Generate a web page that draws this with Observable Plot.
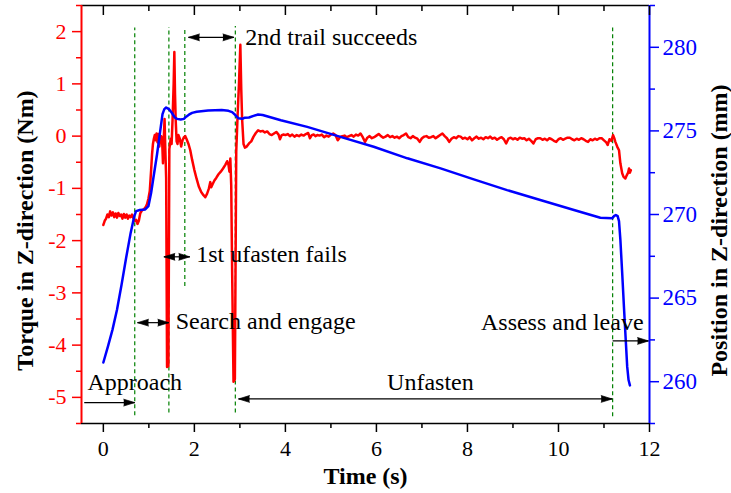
<!DOCTYPE html>
<html><head><meta charset="utf-8">
<script src="https://cdn.jsdelivr.net/npm/d3@7"></script>
<script src="https://cdn.jsdelivr.net/npm/@observablehq/plot@0.6"></script>
<style>body{margin:0;background:#fff;}</style>
</head><body><div id="chart"></div>
<script>
// ---- data ----
const torqueTime = [0.00,0.03,0.06,0.09,0.12,0.15,0.18,0.21,0.24,0.27,0.30,0.33,0.36,0.39,0.42,0.45,0.48,0.51,0.54,0.57,0.60,0.63,0.66,0.69,0.72,0.75,0.78,0.81,0.85,0.89,0.93,0.96,0.99,1.02,1.05,1.07,1.09,1.11,1.13,1.15,1.17,1.19,1.21,1.23,1.25,1.27,1.29,1.31,1.33,1.345,1.36,1.38,1.40,1.43,1.45,1.48,1.50,1.52,1.545,1.56,1.575,1.59,1.61,1.63,1.65,1.68,1.71,1.74,1.77,1.80,1.83,1.87,1.91,1.95,2.00,2.05,2.10,2.15,2.20,2.24,2.28,2.32,2.35,2.37,2.40,2.44,2.48,2.53,2.58,2.63,2.68,2.72,2.75,2.77,2.79,2.81,2.83,2.86,2.89,2.92,2.95,2.98,3.01,3.03,3.05,3.08,3.11,3.15,3.20,3.25,3.30,3.35,3.40,3.45,3.50,3.55,3.60,3.65,3.70,3.75,3.80,3.85,3.88,3.92,3.96,4.00,4.05,4.10,4.15,4.20,4.25,4.30,4.35,4.40,4.45,4.50,4.54,4.58,4.62,4.66,4.70,4.75,4.80,4.85,4.90,4.95,5.00,5.05,5.10,5.15,5.20,5.25,5.30,5.35,5.40,5.45,5.50,5.55,5.60,5.65,5.70,5.75,5.80,5.85,5.90,5.95,6.00,6.05,6.10,6.15,6.20,6.25,6.30,6.35,6.40,6.45,6.50,6.55,6.60,6.65,6.70,6.75,6.80,6.85,6.90,6.95,7.00,7.05,7.10,7.15,7.20,7.25,7.30,7.35,7.40,7.45,7.50,7.55,7.60,7.65,7.70,7.75,7.80,7.85,7.90,7.95,8.00,8.05,8.10,8.15,8.20,8.25,8.30,8.35,8.40,8.45,8.50,8.55,8.60,8.65,8.70,8.75,8.80,8.85,8.90,8.95,9.00,9.05,9.10,9.15,9.20,9.25,9.30,9.35,9.40,9.45,9.50,9.55,9.60,9.65,9.70,9.75,9.80,9.85,9.90,9.95,10.00,10.05,10.10,10.15,10.20,10.25,10.30,10.35,10.40,10.45,10.50,10.55,10.60,10.65,10.70,10.75,10.80,10.85,10.90,10.95,11.00,11.05,11.08,11.12,11.16,11.20,11.23,11.25,11.29,11.33,11.36,11.40,11.43,11.47,11.50,11.53,11.55,11.57,11.59];
const torqueValues = [-1.70,-1.62,-1.58,-1.50,-1.55,-1.44,-1.52,-1.46,-1.55,-1.48,-1.56,-1.47,-1.53,-1.50,-1.58,-1.49,-1.56,-1.50,-1.58,-1.52,-1.55,-1.50,-1.57,-1.62,-1.60,-1.68,-1.62,-1.48,-1.42,-1.40,-1.36,-1.30,-1.20,-1.05,-0.65,-0.35,-0.15,-0.05,0.02,-0.08,0.05,-0.12,0.04,-0.20,-0.05,0.00,-0.05,-0.52,0.00,0.33,-0.20,-0.80,-4.42,-4.40,-0.25,-0.05,-0.15,0.30,1.00,1.61,0.80,0.30,-0.10,-0.15,0.02,-0.05,-0.20,-0.08,-0.02,0.00,-0.06,-0.15,-0.27,-0.45,-0.65,-0.82,-0.97,-1.07,-1.13,-1.17,-1.10,-1.00,-0.88,-0.98,-0.92,-0.85,-0.80,-0.73,-0.68,-0.62,-0.55,-0.48,-0.55,-0.68,-0.43,-0.95,-2.60,-4.70,-4.65,-0.30,0.40,1.00,1.75,0.90,0.31,-0.15,-0.22,-0.20,-0.14,-0.10,-0.01,0.06,0.11,0.09,0.10,0.07,0.09,0.04,0.02,0.05,0.08,0.03,-0.06,0.02,0.03,0.02,0.04,0.00,0.03,-0.01,0.02,0.00,0.03,0.01,0.04,0.06,-0.04,0.02,0.03,0.00,0.02,0.01,0.03,-0.02,0.01,-0.01,0.03,0.05,0.02,-0.08,-0.02,0.00,0.01,-0.02,0.00,0.02,-0.01,0.03,0.01,0.05,-0.02,-0.11,-0.03,0.00,-0.04,-0.02,0.01,0.04,0.00,-0.03,-0.01,0.02,-0.02,0.00,-0.03,-0.01,-0.04,0.00,0.02,0.05,-0.02,-0.04,0.00,-0.03,-0.05,-0.11,-0.04,-0.01,0.00,-0.03,-0.02,0.00,-0.04,-0.01,0.02,0.05,0.00,-0.04,-0.11,-0.05,-0.02,-0.04,0.00,-0.01,-0.05,-0.03,-0.06,-0.02,-0.08,-0.04,-0.01,-0.05,-0.03,-0.06,-0.02,-0.04,-0.01,-0.05,-0.03,-0.07,-0.04,-0.02,-0.06,-0.14,-0.05,-0.03,-0.06,-0.04,-0.07,-0.03,-0.05,-0.04,-0.08,-0.05,-0.09,-0.14,-0.06,-0.04,-0.04,-0.07,-0.05,-0.08,-0.04,-0.06,-0.09,-0.11,-0.06,-0.04,-0.07,-0.05,-0.03,-0.03,-0.06,-0.08,-0.05,-0.07,-0.04,-0.06,-0.09,-0.11,-0.06,-0.08,-0.05,-0.07,-0.04,-0.04,-0.08,-0.12,-0.17,-0.06,-0.09,0.02,-0.05,-0.11,-0.20,-0.27,-0.52,-0.71,-0.78,-0.81,-0.75,-0.70,-0.62,-0.70,-0.65];

const positionTime = [0.00,0.10,0.20,0.30,0.40,0.50,0.60,0.68,0.72,0.80,0.92,0.99,1.05,1.10,1.18,1.25,1.30,1.34,1.38,1.44,1.50,1.57,1.62,1.70,1.77,1.82,1.88,1.95,2.05,2.30,2.60,2.75,2.83,2.90,2.97,3.05,3.10,3.20,3.30,3.40,3.50,3.90,4.48,5.21,5.94,6.68,7.41,8.14,8.87,9.60,10.34,10.92,11.18,11.22,11.26,11.30,11.33,11.36,11.40,11.44,11.48,11.51,11.54,11.57];
const positionValues = [261.15,262.1,263.1,264.3,265.8,267.4,268.9,269.9,270.2,270.27,270.3,270.5,271.3,272.2,273.6,275.0,276.0,276.3,276.4,276.3,276.1,275.8,275.72,275.68,275.72,275.85,275.97,276.08,276.15,276.22,276.25,276.2,276.12,275.95,275.75,275.72,275.78,275.80,275.90,275.98,275.95,275.64,275.24,274.64,274.05,273.36,272.76,272.10,271.46,270.87,270.27,269.81,269.77,269.90,269.97,269.90,269.6,268.5,266.5,264.4,262.4,260.9,260.1,259.78];

const xTicks = [0,2,4,6,8,10,12];
const xMinorTicks = [1,3,5,7,9,11];
const torqueTicks = [-5,-4,-3,-2,-1,0,1,2];
const torqueMinorTicks = [-5.5,-4.5,-3.5,-2.5,-1.5,-0.5,0.5,1.5,2.5];
const positionTicks = [260,265,270,275,280];
const positionMinorTicks = [257.5,262.5,267.5,272.5,277.5,282.5];

const phaseLineX = [0.69,1.44,1.79,2.90,11.19];
const phaseLineBottom = [-5.35,-5.30,-2.88,-5.30,-5.37];
const phaseLineTop = [2.07,2.08,2.07,2.10,2.07];

const labelText = ["Approach","Search and engage","1st ufasten fails","2nd trail succeeds","Unfasten","Assess and leave"];
const labelX = [-0.35,1.59,2.04,3.12,6.235,11.87];
const labelY = [-4.71,-3.55,-2.26,1.89,-4.71,-3.56];
const labelAnchor = ["start","start","start","start","start","end"];

const arrowX1 = [-0.42,0.75,1.33,1.87,2.97,11.19];
const arrowX2 = [0.69,1.44,1.90,2.87,11.18,11.98];
const arrowY = [-5.10,-3.57,-2.31,1.89,-5.03,-3.92];
const headX = [0.69,0.75,1.44,1.33,1.90,1.87,2.87,2.97,11.18,11.98];
const headY = [-5.10,-3.57,-3.57,-2.31,-2.31,1.89,1.89,-5.03,-5.03,-3.92];
const headDir = ["right","left","right","left","right","left","right","left","right","right"];

// ---- scales ----
const xDomain = [-0.48, 12];
const torqueDomain = [-5.5, 2.5];
const positionDomain = [257.5, 282.5];
const posToY = d3.scaleLinear().domain(positionDomain).range(torqueDomain);

const torque = torqueTime.map((t,i)=>({t, v: torqueValues[i]}));
const position = positionTime.map((t,i)=>({t, v: posToY(positionValues[i])}));
const phases = phaseLineX.map((x,i)=>({x, y1: phaseLineBottom[i], y2: phaseLineTop[i]}));
const labels = labelText.map((text,i)=>({text, x: labelX[i], y: labelY[i], a: labelAnchor[i]}));
const arrows = arrowX1.map((x1,i)=>({x1, x2: arrowX2[i], y: arrowY[i]}));
const heads = headX.map((x,i)=>({x, y: headY[i], dir: headDir[i]}));

const chart = Plot.plot({
  width: 731, height: 493,
  marginLeft: 81, marginRight: 82, marginTop: 5, marginBottom: 70,
  x: {domain: xDomain, axis: null},
  y: {domain: torqueDomain, axis: null},
  style: {fontFamily: "'Liberation Serif', 'Times New Roman', serif", fontSize: "22px", background: "white", color: "black"},
  marks: [
    // phase lines
    Plot.ruleX(phases, {x: "x", y1: "y1", y2: "y2", stroke: "#008000", strokeWidth: 1.2, strokeDasharray: "4,3"}),
    // data
    Plot.line(torque, {x: "t", y: "v", stroke: "#ff0000", strokeWidth: 2.5, curve: "linear"}),
    Plot.line(position, {x: "t", y: "v", stroke: "#0000ff", strokeWidth: 2.5, curve: "linear"}),
    // annotations
    Plot.link(arrows, {x1: "x1", x2: "x2", y1: "y", y2: "y", stroke: "black", strokeWidth: 1.2}),
    Plot.vector(heads, {x: "x", y: "y", rotate: d => d.dir === "right" ? 90 : -90, length: 11, r: 3.4, shape: "spike", anchor: "end", fill: "black", stroke: "black", strokeWidth: 0.7}),
    Plot.text(labels.filter(d => d.a === "start"), {x: "x", y: "y", text: "text", textAnchor: "start", fontSize: 24, fill: "black", lineAnchor: "middle"}),
    Plot.text(labels.filter(d => d.a === "end"), {x: "x", y: "y", text: "text", textAnchor: "end", fontSize: 24, fill: "black", lineAnchor: "middle"}),
    // frame
    Plot.ruleY([torqueDomain[1]], {stroke: "black", strokeWidth: 1.5}),
    Plot.ruleY([torqueDomain[0]], {stroke: "black", strokeWidth: 1.5}),
    Plot.ruleX([xDomain[0]], {stroke: "#ff0000", strokeWidth: 2}),
    Plot.ruleX([xDomain[1]], {stroke: "#0000ff", strokeWidth: 2}),
    // x axes
    Plot.axisX({anchor: "bottom", ticks: xTicks, tickSize: 9, tickPadding: 8, tickFormat: d => String(d), label: null, strokeWidth: 1.5}),
    Plot.axisX({anchor: "bottom", ticks: xMinorTicks, tickSize: 5, tickFormat: () => "", label: null, strokeWidth: 1.5}),
    Plot.axisX({anchor: "top", ticks: xTicks, tickSize: -9, tickFormat: () => "", label: null, strokeWidth: 1.5}),
    Plot.axisX({anchor: "top", ticks: xMinorTicks, tickSize: -5, tickFormat: () => "", label: null, strokeWidth: 1.5}),
    // left axis (torque)
    Plot.axisY({anchor: "left", ticks: torqueTicks, tickSize: 9, tickPadding: 6, tickFormat: d => String(d), label: null, color: "#ff0000", strokeWidth: 1.5}),
    Plot.axisY({anchor: "left", ticks: torqueMinorTicks, tickSize: 5, tickFormat: () => "", label: null, color: "#ff0000", strokeWidth: 1.5}),
    // right axis (position)
    Plot.axisY({anchor: "right", ticks: positionTicks.map(posToY), tickSize: 9, tickPadding: 4, tickFormat: d => String(Math.round(posToY.invert(d))), label: null, color: "#0000ff", strokeWidth: 1.5, fontSize: 23}),
    Plot.axisY({anchor: "right", ticks: positionMinorTicks.map(posToY), tickSize: 5, tickFormat: () => "", label: null, color: "#0000ff", strokeWidth: 1.5}),
    // titles
    Plot.text(["Time (s)"], {frameAnchor: "bottom", dy: 53, fontSize: 24, fontWeight: "bold", fill: "black", textAnchor: "middle", lineAnchor: "middle"}),
    Plot.text(["Torque in Z-direction (Nm)"], {frameAnchor: "left", dx: -56, dy: 16, rotate: -90, fontSize: 24, fontWeight: "bold", fill: "black", textAnchor: "middle", lineAnchor: "middle"}),
    Plot.text(["Position in Z-direction (mm)"], {frameAnchor: "right", dx: 70, dy: 16, rotate: -90, fontSize: 24, fontWeight: "bold", fill: "black", textAnchor: "middle", lineAnchor: "middle"})
  ]
});
document.getElementById("chart").appendChild(chart);
</script></body></html>
